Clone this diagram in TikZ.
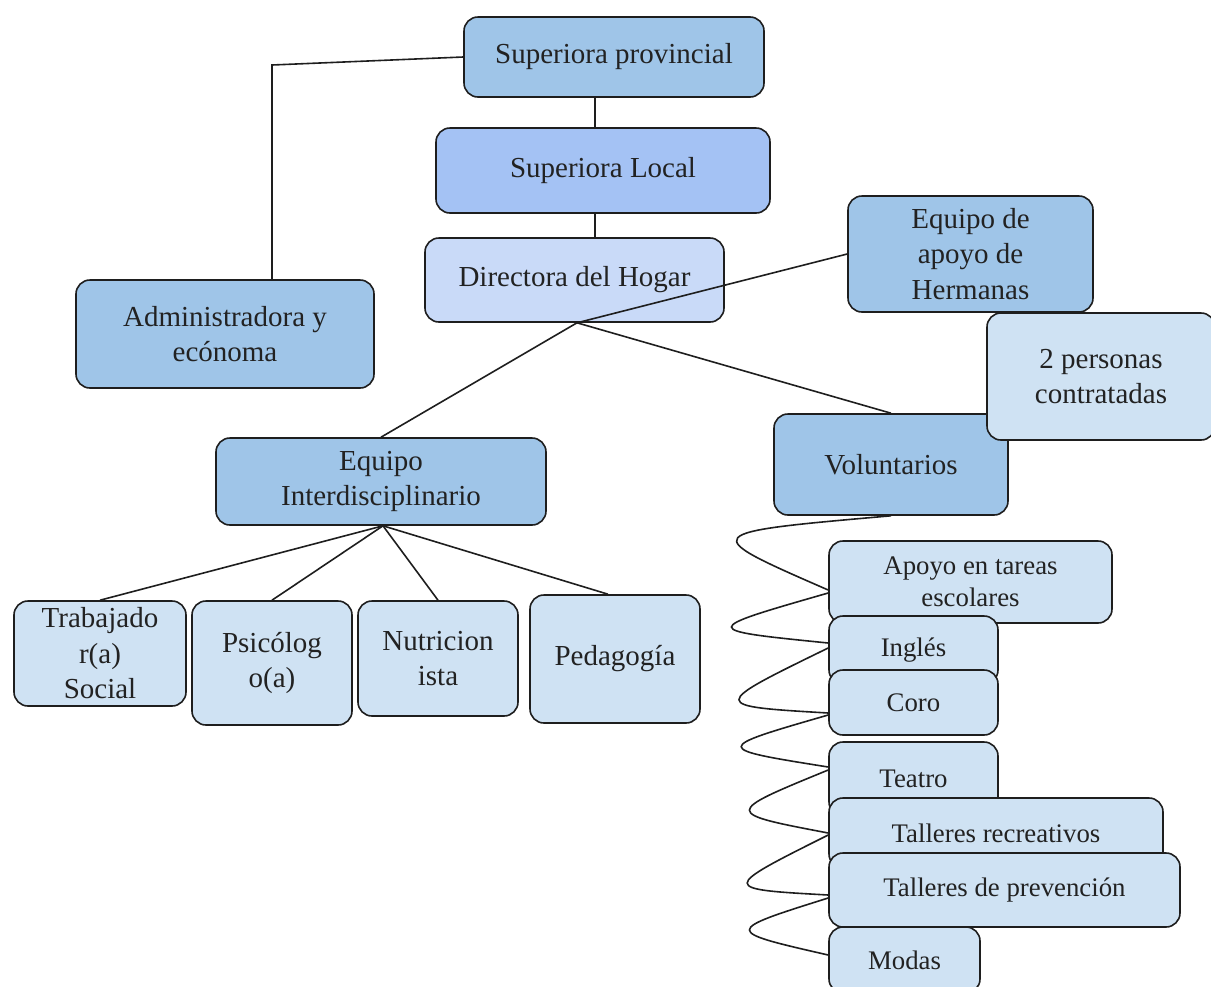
\documentclass[tikz,border=0pt]{standalone}
\usepackage{fontspec}
\setmainfont{Liberation Serif}
\usetikzlibrary{calc}
\definecolor{bA}{RGB}{159,197,232}
\definecolor{bB}{RGB}{164,194,244}
\definecolor{bC}{RGB}{201,218,248}
\definecolor{bD}{RGB}{207,226,243}
\definecolor{ln}{RGB}{30,30,30}
\definecolor{tx}{RGB}{34,34,34}
% \bx[style]{name}{x1}{y1}{x2}{y2}{fill}{text}
\newcommand\bx[8][box]{%
  \pgfmathsetmacro\bxcx{(#3+#5)/2}%
  \pgfmathsetmacro\bxcy{(#4+#6)/2}%
  \pgfmathsetmacro\bxw{#5-#3}%
  \pgfmathsetmacro\bxh{#6-#4}%
  \node[#1, fill=#7, minimum width=\bxw pt, minimum height=\bxh pt] (#2) at (\bxcx,\bxcy) {#8};}
\begin{document}
\begin{tikzpicture}[x=1pt,y=-1pt,
  box/.style={draw=ln, line width=1.6pt, rounded corners=14pt, inner sep=0pt, align=center,
    text=tx, font=\fontsize{29}{35.5}\selectfont},
  sbox/.style={box, font=\fontsize{26.8}{32}\selectfont},
  conn/.style={draw=ln, line width=1.6pt}]
\useasboundingbox (0,0) rectangle (1211,986);

% top chain
\bx{prov}{464}{17}{764}{97}{bA}{Superiora provincial}
\bx{local}{436}{128}{770}{213}{bB}{Superiora Local}
\bx{dir}{425}{238}{724}{322}{bC}{Directora del Hogar}
\bx{admin}{76}{280}{374}{388}{bA}{Administradora y\\ecónoma}
\bx{herm}{848}{196}{1093}{312}{bA}{Equipo de\\apoyo de\\Hermanas}
\bx{vol}{774}{414}{1008}{515}{bA}{Voluntarios}
\bx{pers}{987}{313}{1215}{440}{bD}{2 personas\\contratadas}

% interdisciplinary team
\bx{eqint}{216}{438}{546}{525}{bA}{Equipo\\Interdisciplinario}
\bx{trab}{14}{601}{186}{706}{bD}{Trabajado\\r(a)\\Social}
\bx{psic}{192}{601}{352}{725}{bD}{Psicólog\\o(a)}
\bx{nutr}{358}{601}{518}{716}{bD}{Nutricion\\ista}
\bx{ped}{530}{595}{700}{723}{bD}{Pedagogía}

% volunteers list
\bx[sbox]{apoyo}{829}{541}{1112}{623}{bD}{Apoyo en tareas\\escolares}
\bx[sbox]{ingles}{829}{616}{998}{684}{bD}{Inglés}
\bx[sbox]{coro}{829}{670}{998}{735}{bD}{Coro}
\bx[sbox]{teatro}{829}{742}{998}{816}{bD}{Teatro}
\bx[sbox]{trec}{829}{798}{1163}{868}{bD}{Talleres recreativos}
\bx[sbox]{tprev}{829}{853}{1180}{927}{bD}{Talleres de prevención}
\bx[sbox]{modas}{829}{927}{980}{993}{bD}{Modas}

% connectors
\coordinate (corner) at (272,65);
\draw[conn] (prov.west) -- (corner) -- (corner |- admin.north);
\draw[conn] ([xshift=-19pt]prov.south) -- ([xshift=-8pt]local.north);
\draw[conn] ([xshift=-8pt]local.south) -- ([xshift=20.5pt]dir.north);
\draw[conn] ([xshift=2.5pt]dir.south) -- (herm.west);
\draw[conn] ([xshift=2.5pt]dir.south) -- (vol.north);
\draw[conn] ([xshift=2.5pt]dir.south) -- (eqint.north);
\draw[conn] ([xshift=2pt]eqint.south) -- (trab.north);
\draw[conn] ([xshift=2pt]eqint.south) -- (psic.north);
\draw[conn] ([xshift=2pt]eqint.south) -- (nutr.north);
\draw[conn] ([xshift=2pt]eqint.south) -- ([xshift=-7pt]ped.north);

% wavy connectors
\draw[conn] (vol.south) .. controls ($(vol.south)+(-194,17)$) .. ($(apoyo.west)+(0,8)$);
\draw[conn] ($(apoyo.west)+(0,11)$) .. controls ($(apoyo.west)+(-129,48)$) .. ($(ingles.west)+(0,-7)$);
\draw[conn] ($(ingles.west)+(0,-2)$) .. controls ($(ingles.west)+(-119,56)$) .. ($(coro.west)+(0,10.5)$);
\draw[conn] ($(coro.west)+(0,12.5)$) .. controls ($(coro.west)+(-116,46)$) .. ($(teatro.west)+(0,-12)$);
\draw[conn] ($(teatro.west)+(0,-9)$) .. controls ($(teatro.west)+(-105,34)$) .. (trec.west);
\draw[conn] ($(trec.west)+(0,2)$) .. controls ($(trec.west)+(-108,56)$) .. ($(tprev.west)+(0,5)$);
\draw[conn] ($(tprev.west)+(0,8)$) .. controls ($(tprev.west)+(-105,41)$) .. ($(modas.west)+(0,-5)$);
\end{tikzpicture}
\end{document}
